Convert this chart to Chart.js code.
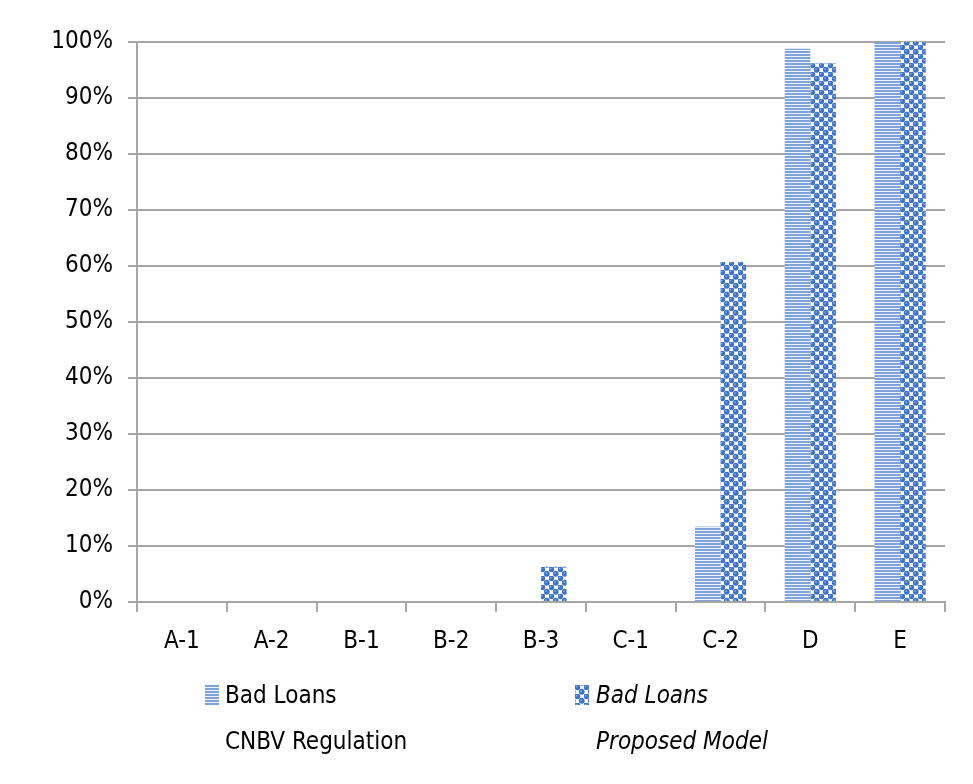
<!DOCTYPE html>
<html>
<head>
<meta charset="utf-8">
<script src="https://cdn.jsdelivr.net/npm/chart.js@4.4.1/dist/chart.umd.min.js"></script>
<style>
  body { margin: 0; background: #fff; }
  #wrap { position: relative; width: 973px; height: 784px; }
  #legend { position: absolute; left: 0; top: 0; width: 973px; height: 784px; pointer-events: none;
            font-family: "Liberation Sans Narrow", "DejaVu Sans Condensed", sans-serif; font-size: 24px; color: #000; }
  .item { position: absolute; line-height: 46px; }
</style>
</head>
<body>
<div id="wrap">
  <canvas id="chart" width="973" height="784"></canvas>
  <div id="legend">
    <canvas id="sw1" width="14" height="20" style="position:absolute;left:205px;top:685px;"></canvas>
    <div class="item" style="left:225px;top:672px;">Bad Loans<br>CNBV Regulation</div>
    <canvas id="sw2" width="14" height="20" style="position:absolute;left:575px;top:685px;"></canvas>
    <div class="item" style="left:596px;top:672px;font-style:italic;">Bad Loans<br>Proposed Model</div>
  </div>
</div>
<script>
  const categories = ['A-1', 'A-2', 'B-1', 'B-2', 'B-3', 'C-1', 'C-2', 'D', 'E'];
  const cnbvValues = [0, 0, 0, 0, 0, 0, 13.5, 98.8, 100];
  const proposedValues = [0, 0, 0, 0, 6.3, 0, 60.7, 96.2, 100];
  const seriesNames = ['Bad Loans CNBV Regulation', 'Bad Loans Proposed Model'];

  // horizontal stripes pattern
  function stripePattern() {
    let c = document.createElement('canvas');
    c.width = 6; c.height = 3;
    let x = c.getContext('2d');
    x.fillStyle = '#eef3fb';
    x.fillRect(0, 0, 6, 3);
    x.fillStyle = '#7fa2d8';
    x.fillRect(0, 0, 6, 2);
    return x.createPattern(c, 'repeat');
  }

  // dotted checker pattern
  function dotPattern() {
    let c = document.createElement('canvas');
    c.width = 9; c.height = 9;
    let x = c.getContext('2d');
    x.fillStyle = '#ffffff';
    x.fillRect(0, 0, 9, 9);
    x.fillStyle = '#3d72c6';
    let pts = [[2.25, 2.25], [6.75, 6.75], [6.75, -2.25], [-2.25, 6.75], [11.25, 6.75], [6.75, 11.25]];
    pts.forEach(p => {
      x.beginPath();
      x.arc(p[0], p[1], 2.9, 0, Math.PI * 2);
      x.fill();
    });
    x.fillStyle = '#8fb0e2';
    [[1.6, 1.6], [6.1, 6.1]].forEach(p => {
      x.beginPath();
      x.arc(p[0], p[1], 0.9, 0, Math.PI * 2);
      x.fill();
    });
    return x.createPattern(c, 'repeat');
  }

  let ctx = document.getElementById('chart').getContext('2d');
  let stripes = stripePattern();
  let dots = dotPattern();

  let sw1 = document.getElementById('sw1').getContext('2d');
  sw1.fillStyle = stripes; sw1.fillRect(0, 0, 14, 20);
  let sw2 = document.getElementById('sw2').getContext('2d');
  sw2.fillStyle = dots; sw2.fillRect(0, 0, 14, 20);

  const tickFont = { family: '"Liberation Sans Narrow", "DejaVu Sans Condensed", sans-serif', size: 24 };

  new Chart(ctx, {
    type: 'bar',
    data: {
      labels: categories,
      datasets: [{
        label: seriesNames[0],
        data: cnbvValues,
        backgroundColor: stripes,
        borderWidth: 0
      }, {
        label: seriesNames[1],
        data: proposedValues,
        backgroundColor: dots,
        borderWidth: 0
      }]
    },
    options: {
      responsive: false,
      animation: false,
      layout: { padding: { left: 0, right: 28, top: 42, bottom: 122 } },
      datasets: { bar: { categoryPercentage: 0.57, barPercentage: 1.0 } },
      plugins: { legend: { display: false }, tooltip: { enabled: false } },
      scales: {
        x: {
          grid: { display: true, drawOnChartArea: false, drawTicks: true, tickLength: 10, color: '#a6a6a6', lineWidth: 2, offset: true },
          border: { display: true, color: '#a6a6a6', width: 2 },
          ticks: { color: '#000', font: tickFont, padding: 15 },
          afterFit: function (scale) { scale.height = 60; }
        },
        y: {
          min: 0,
          max: 100,
          grid: { color: '#a6a6a6', lineWidth: 2, tickLength: 9 },
          border: { display: true, color: '#a6a6a6', width: 2 },
          ticks: {
            stepSize: 10,
            color: '#000',
            font: tickFont,
            padding: 15,
            callback: function (v) { return v + '%'; }
          },
          afterFit: function (scale) { scale.width = 137; }
        }
      }
    }
  });
</script>
</body>
</html>
